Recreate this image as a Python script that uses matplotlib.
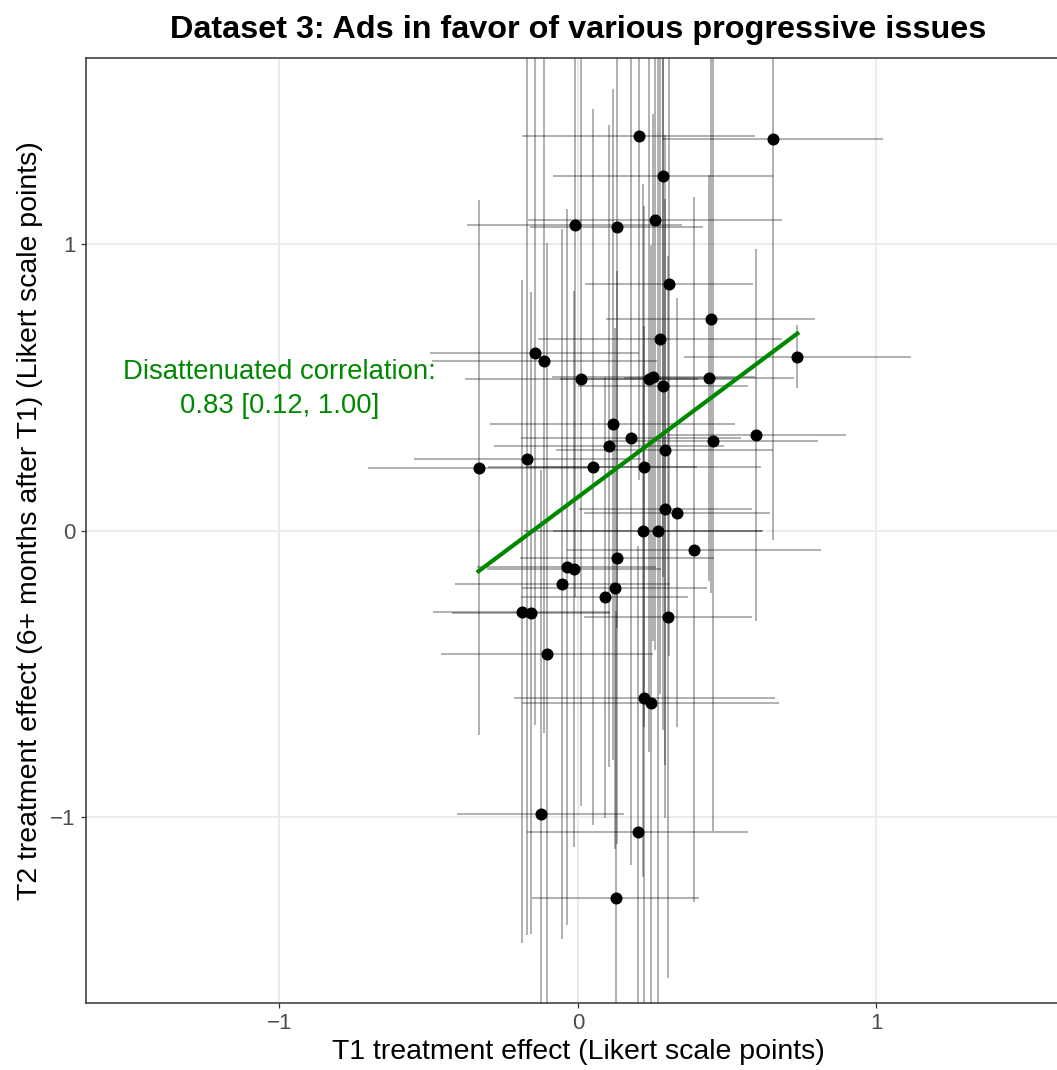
""" Dataset 3: T1 vs T2 treatment effects with error bars """

import numpy as np
import matplotlib.pyplot as plt

plt.rcParams['font.family'] = ['Liberation Sans', 'DejaVu Sans']

# point estimates and half-widths of the intervals
t1_est = [0.204, 0.653, 0.286, 0.259, -0.010, 0.130, 0.305, 0.445, -0.145, -0.112,
          0.735, 0.275, 0.012, 0.239, 0.252, 0.440, 0.286, 0.116, 0.178, 0.105,
          0.291, 0.453, 0.597, -0.333, -0.170, 0.049, 0.220, 0.292, 0.332, 0.219,
          0.268, 0.389, 0.132, -0.038, -0.013, -0.053, 0.123, 0.090, -0.189, -0.158,
          0.302, -0.103, 0.222, 0.244, -0.125, 0.200, 0.127]
t2_est = [1.379, 1.369, 1.239, 1.086, 1.068, 1.060, 0.862, 0.739, 0.622, 0.594,
          0.608, 0.669, 0.529, 0.529, 0.536, 0.534, 0.506, 0.372, 0.324, 0.297,
          0.283, 0.314, 0.334, 0.221, 0.250, 0.224, 0.224, 0.078, 0.064, 0.001,
          0.001, -0.065, -0.094, -0.125, -0.132, -0.186, -0.200, -0.231, -0.282, -0.287,
          -0.300, -0.429, -0.584, -0.601, -0.989, -1.052, -1.280]
t1_err = [0.39, 0.37, 0.368, 0.425, 0.36, 0.29, 0.28, 0.35, 0.35, 0.376,
          0.38, 0.41, 0.39, 0.30, 0.34, 0.285, 0.285, 0.41, 0.37, 0.385,
          0.364, 0.35, 0.30, 0.37, 0.38, 0.35, 0.395, 0.29, 0.31, 0.40,
          0.35, 0.425, 0.325, 0.30, 0.29, 0.36, 0.31, 0.28, 0.295, 0.265,
          0.28, 0.356, 0.437, 0.43, 0.28, 0.37, 0.28]
t2_err = [1.2, 1.40, 1.4, 1.5, 1.3, 1.4, 1.3, 0.955, 1.3, 1.3,
          0.11, 1.24, 1.49, 1.3, 0.92, 0.71, 1.2, 1.17, 1.49, 1.12,
          1.1, 1.36, 0.65, 0.933, 1.66, 1.25, 0.91, 1.08, 0.75, 1.21,
          1.7, 1.23, 1.0, 1.25, 0.97, 1.24, 0.91, 0.77, 1.158, 1.12,
          1.26, 1.434, 1.3, 1.6, 1.2, 1.0, 1.0]

# fitted (disattenuated) line
line_slope = 0.777
line_intercept = 0.118
corr_label = "Disattenuated correlation:\n0.83 [0.12, 1.00]"

fig = plt.figure(figsize=(10.57, 10.70), dpi=100)
ax = fig.add_axes([86 / 1057, 1 - 1003 / 1070, 1 - 86 / 1057, (1003 - 58) / 1070])

x = np.array(t1_est)
y = np.array(t2_est)

ax.errorbar(x, y, xerr=t1_err, fmt='none', ecolor='black', alpha=0.3,
            elinewidth=1.45, capsize=0, zorder=2)
ax.errorbar(x, y, yerr=t2_err, fmt='none', ecolor='black', alpha=0.3,
            elinewidth=1.45, capsize=0, zorder=2)

xl = np.array([x.min(), x.max()])
ax.plot(xl, line_intercept + line_slope * xl, color='#008800', linewidth=3.0, zorder=3)
ax.scatter(x, y, s=75, color='black', zorder=4, linewidths=0)

ax.text(-1.0, 0.496, corr_label, color='#008800', fontsize=19.8,
        ha='center', va='center', linespacing=1.42)

ax.set_xlim(-1.648, 1.605)
ax.set_ylim(-1.648, 1.651)
ax.set_xticks([-1, 0, 1])
ax.set_yticks([-1, 0, 1])
ax.set_xticklabels(['\u22121', '0', '1'])
ax.set_yticklabels(['\u22121', '0', '1'])
ax.grid(color='#EBEBEB', linewidth=1.4, zorder=0)
ax.set_axisbelow(True)
ax.tick_params(length=3.8, width=0.9, color='#333333', labelcolor='#4D4D4D',
               labelsize=16, pad=3.5)
for side in ['left', 'top', 'bottom']:
    ax.spines[side].set_color('#333333')
    ax.spines[side].set_linewidth(1.1)
ax.spines['right'].set_visible(False)

ax.set_xlabel('T1 treatment effect (Likert scale points)', fontsize=20.5)
ax.set_ylabel('T2 treatment effect (6+ months after T1) (Likert scale points)', fontsize=20.5)
ax.xaxis.set_label_coords((578 - 86) / 971, -(1052 - 1003) / 945)
ax.yaxis.set_label_coords(-(86 - 30) / 971, (1003 - 521) / 945)
ax.xaxis.label.set_va('center')
ax.yaxis.label.set_va('center')

fig.text(578 / 1057, 1 - 30 / 1070, 'Dataset 3: Ads in favor of various progressive issues',
         fontsize=23.3, fontweight='bold', ha='center', va='center')

fig.savefig('out.png', dpi=100)
